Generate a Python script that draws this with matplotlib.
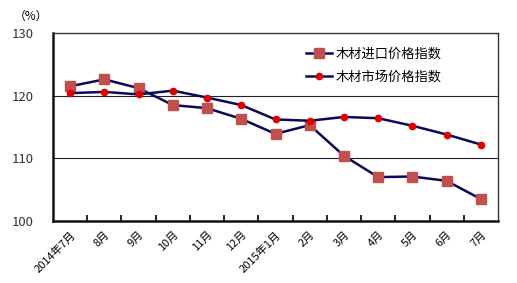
import matplotlib
matplotlib.use("Agg")
import matplotlib.pyplot as plt

plt.rcParams['font.family'] = ['Noto Sans CJK SC', 'DejaVu Sans']

months = ["2014年7月", "8月", "9月", "10月", "11月", "12月", "2015年1月",
          "2月", "3月", "4月", "5月", "6月", "7月"]
import_idx = [121.5, 122.6, 121.2, 118.5, 118.0, 116.3, 113.9,
              115.3, 110.4, 107.0, 107.1, 106.4, 103.5]
market_idx = [120.4, 120.6, 120.2, 120.8, 119.7, 118.5, 116.2,
              116.0, 116.6, 116.4, 115.2, 113.8, 112.2]
yticks = [100, 110, 120, 130]

fig = plt.figure(figsize=(5.17, 2.83), dpi=100)
ax = fig.add_axes([53/517, 1-221/283, 445/517, 188/283])

x = list(range(len(months)))
line_c = "#0a0a5a"
ax.plot(x, import_idx, color=line_c, lw=1.8, marker="s", ms=7.5,
        mfc="#c0504d", mec="#c0504d", label="木材进口价格指数", zorder=3)
ax.plot(x, market_idx, color=line_c, lw=1.8, marker="o", ms=4.5,
        mfc="#e00000", mec="#e00000", label="木材市场价格指数", zorder=3)

ax.set_xlim(-0.5, len(months) - 0.5)
ax.set_ylim(100, 130)
ax.set_yticks(yticks)
ax.tick_params(axis="y", length=0, labelsize=9.5, pad=14, colors="#333333")
for yv in [110, 120]:
    ax.axhline(yv, color="#222222", lw=0.8, zorder=1)

ax.set_xticks([i + 0.5 for i in x[:-1]], minor=False)
ax.set_xticklabels([])
ax.set_xticks(x, minor=True)
ax.set_xticklabels(months, minor=True, rotation=45, ha="right",
                   rotation_mode="anchor", fontsize=8)
ax.tick_params(axis="x", which="major", direction="in", length=4, width=1.2)
ax.tick_params(axis="x", which="minor", length=0, pad=6)

for s in ["left", "bottom"]:
    ax.spines[s].set_linewidth(1.8)
    ax.spines[s].set_color("#111111")
for s in ["top", "right"]:
    ax.spines[s].set_linewidth(1.0)
    ax.spines[s].set_color("#333333")

ax.legend(loc="upper right", bbox_to_anchor=(0.895, 0.97), frameon=False,
          fontsize=9.5, handlelength=2.0, labelspacing=0.75, handletextpad=0.3,
          borderaxespad=0.3)

fig.text(14/517, 1-16/283, "（%）", fontsize=8.5, va="center", ha="left")

fig.savefig("out.png", dpi=100)
